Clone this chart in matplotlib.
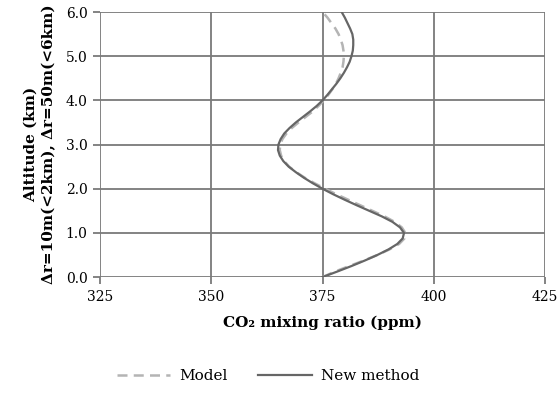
import numpy as np
import matplotlib.pyplot as plt

plt.rcParams['font.family'] = ['DejaVu Serif']

# altitude (km), every 0.125 km
alt = [0.0, 0.125, 0.25, 0.375, 0.5, 0.625, 0.75, 0.875, 1.0, 1.125, 1.25, 1.375,
       1.5, 1.625, 1.75, 1.875, 2.0, 2.125, 2.25, 2.375, 2.5, 2.625, 2.75, 2.875,
       3.0, 3.125, 3.25, 3.375, 3.5, 3.625, 3.75, 3.875, 4.0, 4.125, 4.25, 4.375,
       4.5, 4.625, 4.75, 4.875, 5.0, 5.125, 5.25, 5.375, 5.5, 5.625, 5.75, 5.875, 6.0]
# CO2 (ppm)
model = [375.0, 377.8, 381.0, 384.3, 387.3, 390.0, 392.2, 393.4, 393.6, 392.8,
         391.2, 388.9, 386.2, 383.5, 380.8, 378.1, 375.6, 373.2, 371.0, 369.1,
         367.5, 366.4, 365.7, 365.4, 365.5, 366.0, 366.9, 368.1, 369.6, 371.2,
         372.8, 374.1, 375.3, 376.3, 377.2, 378.0, 378.6, 379.1, 379.5, 379.7,
         379.8, 379.7, 379.5, 379.1, 378.6, 377.9, 377.0, 376.1, 375.0]
new_method = [375.0, 378.3, 381.5, 384.5, 387.3, 389.8, 391.8, 393.0, 393.3, 392.4,
              390.7, 388.3, 385.5, 382.7, 380.0, 377.4, 375.0, 372.8, 370.8, 369.0,
              367.4, 366.2, 365.4, 365.0, 365.1, 365.6, 366.4, 367.6, 369.0, 370.6,
              372.2, 373.7, 375.0, 376.1, 377.1, 378.1, 379.0, 379.8, 380.5, 381.1,
              381.5, 381.8, 381.9, 381.9, 381.7, 381.2, 380.6, 380.0, 379.3]

xticks = [325, 350, 375, 400, 425]
yticks = [0.0, 1.0, 2.0, 3.0, 4.0, 5.0, 6.0]

fig = plt.figure(figsize=(5.58, 4.01), dpi=100)
ax = fig.add_axes([0.179, 0.309, 0.798, 0.661])

grid_c = '#7a7a7a'
for x in xticks:
    ax.axvline(x, color=grid_c, lw=1.3, zorder=1)
for y in yticks:
    ax.axhline(y, color=grid_c, lw=1.3, zorder=1)

ax.plot(model, alt, color='#b4b4b4', lw=1.8, ls=(0, (4, 2.5)), label='Model',
        zorder=3, dash_joinstyle='round')
ax.plot(new_method, alt, color='#666666', lw=1.6, label='New method', zorder=4,
        solid_joinstyle='round')

ax.set_xlim(325, 425)
ax.set_ylim(0, 6)
ax.set_xticks(xticks)
ax.set_yticks(yticks)
ax.set_yticklabels(['%.1f' % v for v in yticks])
for s in ax.spines.values():
    s.set_visible(False)
ax.tick_params(direction='out', length=5, width=1.3, color=grid_c, labelsize=10, pad=4)

ax.set_xlabel('CO₂ mixing ratio (ppm)', fontsize=11, fontweight='bold', labelpad=9)
ax.set_ylabel('Altitude (km)\nΔr=10m(<2km), Δr=50m(<6km)', fontsize=11,
              fontweight='bold', labelpad=7, linespacing=1.3)

fig.legend(loc='center', bbox_to_anchor=(0.48, 0.062), ncol=2, frameon=False,
           fontsize=11, handlelength=3.5, columnspacing=2.0, handletextpad=0.6)

fig.savefig('out.png', dpi=100)
